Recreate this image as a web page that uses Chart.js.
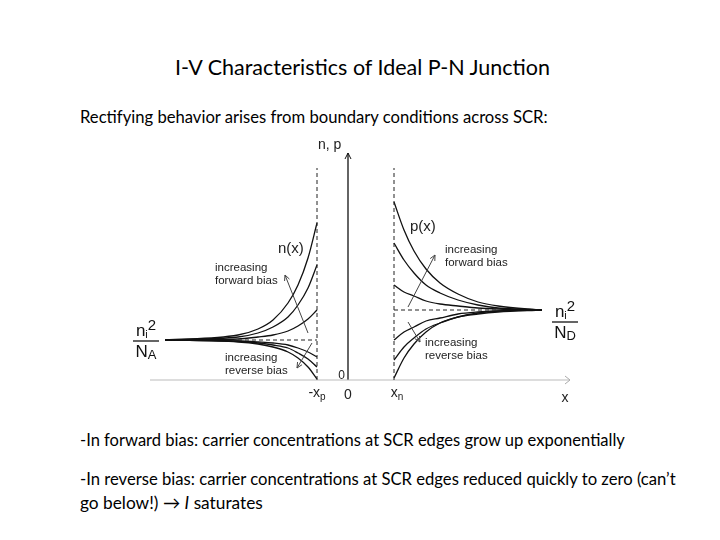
<!DOCTYPE html>
<html>
<head>
<meta charset="utf-8">
<script src="https://cdn.jsdelivr.net/npm/chart.js@4.4.1/dist/chart.umd.min.js"></script>
<style>
  html, body { margin: 0; padding: 0; background: #fff; }
  body { width: 720px; height: 540px; position: relative; overflow: hidden; font-family: Lato, "Open Sans", sans-serif; color: #000; }
  .line { position: absolute; white-space: nowrap; line-height: 1; transform: translateY(-50%); }
  #fig { position: absolute; left: 120px; top: 130px; }
</style>
</head>
<body>
<div class="line" id="title" style="left:175px; top:68px; font-size:22px;">I-V Characteristics of Ideal P-N Junction</div>
<div class="line" id="intro" style="left:80px; top:117px; font-size:16px;">Rectifying behavior arises from boundary conditions across SCR:</div>
<div class="line" id="fwd" style="left:80px; top:440px; font-size:16px;">-In forward bias: carrier concentrations at SCR edges grow up exponentially</div>
<div class="line" id="rev" style="left:80px; top:479px; font-size:16px;">-In reverse bias: carrier concentrations at SCR edges reduced quickly to zero (can’t</div>
<div class="line" id="rev2" style="left:80px; top:503px; font-size:16px;">go below!) → <i>I</i> saturates</div>

<canvas id="fig" width="470" height="285"></canvas>

<script>
// depletion edges and equilibrium minority levels (arbitrary units)
const xpEdge = -31;
const xnEdge = 46;
const levelN = 40;   // ni^2/NA
const levelP = 70;   // ni^2/ND
const edgeTop = 212;

// n(x) on the p side, x <= -xp
const nSideX = [-183, -110, -90, -75, -60, -50, -40, -31];
const nFwdHigh = [40, 45, 51, 60, 77, 95, 122, 157];
const nFwdMid  = [40, 43, 47, 53, 63, 75, 92, 115];
const nFwdLow  = [40, 41, 43, 45, 49, 54, 61, 70];
const nRevLow  = [40, 39, 38, 37, 35, 32, 28, 23];
const nRevMid  = [40, 39, 37, 35, 32, 27, 21, 13];
const nRevHigh = [40, 38, 36, 33, 28, 22, 13, 1];

// p(x) on the n side, x >= xn
const pSideX = [46, 56, 66, 78, 92, 110, 130, 150, 194];
const pFwdHigh = [178, 150, 129, 111, 97, 86, 78, 74, 70];
const pFwdMid  = [137, 120, 107, 95, 87, 80, 75, 72, 70];
const pFwdLow  = [95, 88, 84, 79, 76, 74, 72, 71, 70];
const pRevLow  = [40, 48, 53, 59, 62, 66, 68, 69, 70];
const pRevMid  = [20, 33, 42, 51, 57, 63, 66, 68, 70];
const pRevHigh = [2, 22, 36, 48, 57, 63, 67, 69, 70];

// axes extents
const axisXRange = [-198, 222];
const axisYTop = 227;

// stretch the slide text lines to the widths in the picture
function fitLine(id, target) {
  const el = document.getElementById(id);
  const w = el.getBoundingClientRect().width;
  const fs = parseFloat(getComputedStyle(el).fontSize);
  el.style.fontSize = (fs * target / w).toFixed(2) + 'px';
}
fitLine('title', 375);
fitLine('intro', 468);
fitLine('fwd', 545);
fitLine('rev', 596);
fitLine('rev2', 183);

const pts = (xs, ys) => xs.map((x, i) => ({ x: x, y: ys[i] }));

const curve = (xs, ys) => ({
  data: pts(xs, ys),
  borderColor: '#111',
  borderWidth: 1.3,
  pointRadius: 0,
  cubicInterpolationMode: 'monotone'
});

const dashed = (data) => ({
  data: data,
  borderColor: '#222',
  borderWidth: 1,
  borderDash: [4, 3],
  pointRadius: 0
});

const FIG_FONT = '"Liberation Sans", Arial, sans-serif';

// text with sub/superscript pieces: [text, size, dy]
function drawRich(ctx, parts, x, y, align) {
  let total = 0;
  parts.forEach(p => { ctx.font = p[1] + 'px ' + FIG_FONT; total += ctx.measureText(p[0]).width; });
  let cx = align === 'center' ? x - total / 2 : (align === 'right' ? x - total : x);
  ctx.textAlign = 'left';
  ctx.textBaseline = 'middle';
  parts.forEach(p => {
    ctx.font = p[1] + 'px ' + FIG_FONT;
    ctx.fillText(p[0], cx, y + p[2]);
    cx += ctx.measureText(p[0]).width;
  });
  return total;
}

function arrow(ctx, x1, y1, x2, y2, color) {
  ctx.strokeStyle = color;
  ctx.lineWidth = 1;
  ctx.beginPath();
  ctx.moveTo(x1, y1);
  ctx.lineTo(x2, y2);
  const a = Math.atan2(y2 - y1, x2 - x1);
  const L = 6;
  ctx.moveTo(x2 - L * Math.cos(a - 0.45), y2 - L * Math.sin(a - 0.45));
  ctx.lineTo(x2, y2);
  ctx.lineTo(x2 - L * Math.cos(a + 0.45), y2 - L * Math.sin(a + 0.45));
  ctx.stroke();
}

const labels = {
  id: 'labels',
  afterDatasetsDraw(chart) {
    const { ctx, scales: { x, y } } = chart;
    const X = v => x.getPixelForValue(v);
    const Y = v => y.getPixelForValue(v);
    ctx.save();

    // axis arrowheads
    ctx.strokeStyle = '#111';
    ctx.lineWidth = 1;
    ctx.beginPath();
    ctx.moveTo(X(0) - 3, Y(axisYTop) + 6);
    ctx.lineTo(X(0), Y(axisYTop));
    ctx.lineTo(X(0) + 3, Y(axisYTop) + 6);
    ctx.stroke();
    ctx.strokeStyle = '#aaa';
    ctx.beginPath();
    ctx.moveTo(X(axisXRange[1]) - 5, Y(0) - 4);
    ctx.lineTo(X(axisXRange[1]), Y(0));
    ctx.lineTo(X(axisXRange[1]) - 5, Y(0) + 4);
    ctx.stroke();

    ctx.fillStyle = '#222';
    // axis titles and ticks
    drawRich(ctx, [['n, p', 14, 0]], X(-30), Y(235), 'left');
    drawRich(ctx, [['0', 12, 0]], X(-3), Y(4), 'right');
    drawRich(ctx, [['-x', 14, 0], ['p', 10, 4]], X(xpEdge), Y(-13), 'center');
    drawRich(ctx, [['0', 14, 0]], X(0), Y(-15), 'center');
    drawRich(ctx, [['x', 14, 0], ['n', 10, 4]], X(xnEdge + 3), Y(-13), 'center');
    drawRich(ctx, [['x', 14, 0]], X(217), Y(-18), 'center');

    // curve names
    drawRich(ctx, [['n(x)', 15, 0]], X(-70), Y(131), 'left');
    drawRich(ctx, [['p(x)', 15, 0]], X(62), Y(153), 'left');

    // bias annotations
    const note = (l1, l2, xv, yv) => {
      drawRich(ctx, [[l1, 11.5, 0]], X(xv), Y(yv), 'left');
      drawRich(ctx, [[l2, 11.5, 0]], X(xv), Y(yv - 13), 'left');
    };
    note('increasing', 'forward bias', -133, 112);
    note('increasing', 'reverse bias', -123, 22);
    note('increasing', 'forward bias', 97, 130);
    note('increasing', 'reverse bias', 77, 37);

    arrow(ctx, X(-40), Y(47), X(-63), Y(105), '#444');
    arrow(ctx, X(-36), Y(37), X(-51), Y(12), '#444');
    arrow(ctx, X(60), Y(73), X(87), Y(125), '#444');
    arrow(ctx, X(60), Y(58), X(72), Y(38), '#444');

    // ni^2/NA and ni^2/ND
    const frac = (xc, yb, sub) => {
      ctx.fillStyle = '#111';
      drawRich(ctx, [['n', 17, 0], ['i', 11, 4], ['2', 15, -5]], xc, Y(yb) - 10, 'center');
      drawRich(ctx, [['N', 17, 0], [sub, 13, 3]], xc, Y(yb) + 11, 'center');
      ctx.strokeStyle = '#111';
      ctx.lineWidth = 1.3;
      ctx.beginPath();
      ctx.moveTo(xc - 13, Y(yb));
      ctx.lineTo(xc + 13, Y(yb));
      ctx.stroke();
    };
    frac(X(-202), levelN - 1, 'A');
    frac(X(217), levelP - 12, 'D');

    ctx.restore();
  }
};

new Chart(document.getElementById('fig'), {
  type: 'line',
  data: {
    datasets: [
      dashed([{ x: xpEdge, y: 0 }, { x: xpEdge, y: edgeTop }]),
      dashed([{ x: xnEdge, y: 0 }, { x: xnEdge, y: edgeTop }]),
      dashed([{ x: nSideX[1], y: levelN }, { x: xpEdge, y: levelN }]),
      dashed([{ x: xnEdge, y: levelP }, { x: pSideX[7], y: levelP }]),
      { data: [{ x: axisXRange[0], y: 0 }, { x: axisXRange[1], y: 0 }], borderColor: '#bbb', borderWidth: 1, pointRadius: 0 },
      { data: [{ x: 0, y: 0 }, { x: 0, y: axisYTop }], borderColor: '#111', borderWidth: 1.3, pointRadius: 0 },
      curve(nSideX, nFwdHigh),
      curve(nSideX, nFwdMid),
      curve(nSideX, nFwdLow),
      curve(nSideX, nRevLow),
      curve(nSideX, nRevMid),
      curve(nSideX, nRevHigh),
      curve(pSideX, pFwdHigh),
      curve(pSideX, pFwdMid),
      curve(pSideX, pFwdLow),
      curve(pSideX, pRevLow),
      curve(pSideX, pRevMid),
      curve(pSideX, pRevHigh)
    ]
  },
  options: {
    responsive: false,
    animation: false,
    layout: { padding: 0 },
    scales: {
      x: { type: 'linear', min: -228, max: 242, display: false },
      y: { type: 'linear', min: -35, max: 250, display: false }
    },
    plugins: { legend: { display: false }, tooltip: { enabled: false } }
  },
  plugins: [labels]
});
</script>
</body>
</html>
